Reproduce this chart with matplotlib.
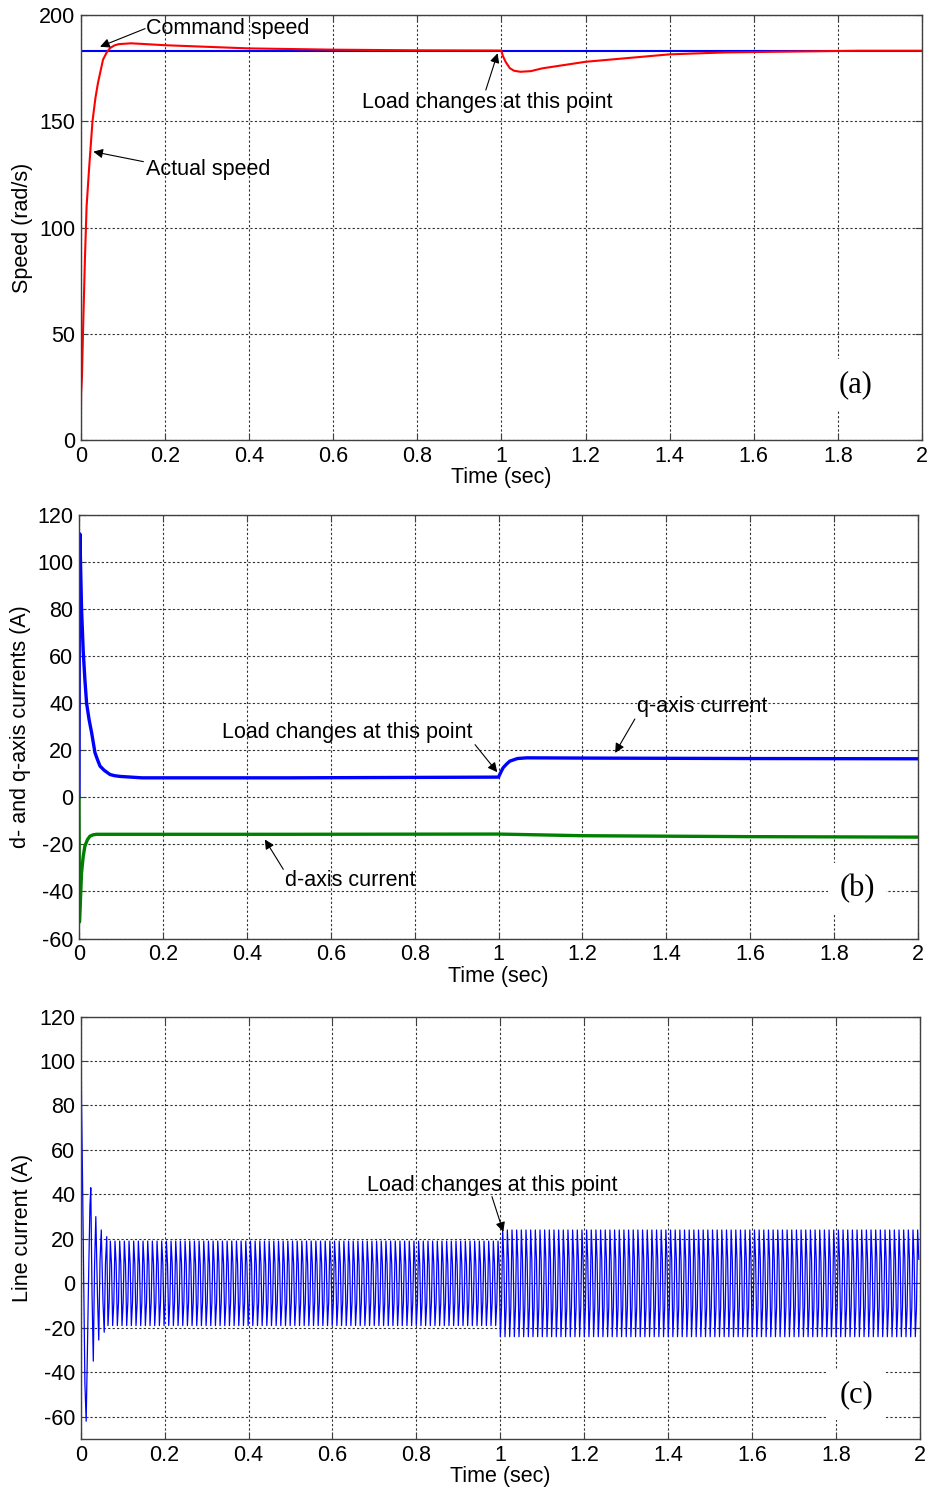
import matplotlib
matplotlib.use("Agg")
import matplotlib.pyplot as plt
import numpy as np

plt.rcParams['font.family'] = ['Liberation Sans', 'DejaVu Sans']
plt.rcParams['font.size'] = 15.5
plt.rcParams['axes.unicode_minus'] = False

# ---- (a) speed ----
cmd_t = [0.0, 2.0]
cmd_speed = [183.2, 183.2]
speed_t = [0.0, 0.001, 0.003, 0.006, 0.010, 0.014, 0.020, 0.028, 0.035, 0.041, 0.053,
           0.062, 0.070, 0.080, 0.090, 0.120, 0.200, 0.400, 0.600, 0.800, 1.000, 1.003,
           1.010, 1.020, 1.030, 1.045, 1.070, 1.097, 1.200, 1.400, 1.532, 1.643, 1.849, 2.0]
speed = [0.0, 22, 30, 55, 85, 110, 128, 150, 161, 168, 179,
         182.5, 184.5, 185.7, 186.3, 186.7, 185.8, 184.3, 183.7, 183.4, 183.3, 181,
         178, 175, 173.8, 173.3, 173.6, 174.9, 178.0, 181.5, 182.4, 182.7, 183.2, 183.2]

# ---- (b) d- and q-axis currents ----
iq_t = [0.0, 0.001, 0.002, 0.006, 0.010, 0.014, 0.018, 0.024, 0.030, 0.038, 0.044,
        0.050, 0.060, 0.074, 0.085, 0.098, 0.15, 0.5, 1.0, 1.005, 1.011, 1.020,
        1.027, 1.045, 1.067, 1.2, 1.6, 2.0]
iq = [0.0, 105, 112, 80, 62, 50, 40, 33, 27.5, 19, 16,
      13.3, 11.5, 9.7, 9.2, 8.9, 8.3, 8.3, 8.6, 10.5, 12.6, 14.3,
      15.4, 16.5, 16.8, 16.7, 16.5, 16.4]
id_t = [0.0, 0.001, 0.003, 0.006, 0.010, 0.014, 0.020, 0.026, 0.034, 0.042, 0.1,
        0.5, 1.0, 1.2, 1.6, 2.0]
i_d = [0.0, -53, -45, -32, -25, -20.7, -18, -16.5, -15.9, -15.7, -15.7,
       -15.7, -15.6, -16.3, -16.7, -16.9]

# ---- (c) line current ----
lc_start_t = [0.0, 0.001, 0.002, 0.004, 0.006, 0.008, 0.010, 0.013, 0.016, 0.019,
              0.022, 0.024, 0.027, 0.030, 0.033, 0.036, 0.040, 0.043, 0.046, 0.049,
              0.053, 0.056, 0.059, 0.062]
lc_start = [0.0, 110, 80, 52, 20, -15, -45, -62, -30, 5,
            35, 43, -5, -35, 8, 30, -6, -25.5, 10, 24,
            -8, -22, 9, 21]
lc_seg_t = [0.065, 1.0, 2.0]
lc_amp = [19, 24]
lc_cycles = [84, 90]
lc_shape = [-1.0, -0.45, 1.0, 0.45]

fig = plt.figure(figsize=(9.32, 14.89), dpi=100)
ax_a = fig.add_axes([0.0866, 0.7045, 0.9027, 0.2854])
ax_b = fig.add_axes([0.0848, 0.3697, 0.9002, 0.2844])
ax_c = fig.add_axes([0.0866, 0.0336, 0.9005, 0.2837])

ax_a.plot(cmd_t, cmd_speed, color='#0000ff', lw=1.5)
ax_a.plot(speed_t, speed, color='#ff0000', lw=1.5)

ax_b.plot(iq_t, iq, color='#0000ff', lw=2.4)
ax_b.plot(id_t, i_d, color='#008000', lw=2.4)

# line current: transient samples then repeated cycles at read amplitudes
lc_t = list(lc_start_t)
lc_v = list(lc_start)
for k in range(len(lc_amp)):
    n = lc_cycles[k] * len(lc_shape)
    tt = np.linspace(lc_seg_t[k], lc_seg_t[k + 1], n, endpoint=False)
    vv = np.tile(lc_shape, lc_cycles[k]) * lc_amp[k]
    lc_t.extend(tt)
    lc_v.extend(vv)
ax_c.plot(lc_t, lc_v, color='#0000ff', lw=0.9)

arrow = dict(arrowstyle='-|>', color='black', lw=0.8, mutation_scale=14,
             shrinkA=0, shrinkB=0)

ax_a.annotate('', xy=(0.046, 185.1), xytext=(0.153, 193.6), arrowprops=arrow)
ax_a.text(0.349, 193.9, 'Command speed', ha='center', va='center')
ax_a.annotate('', xy=(0.030, 135.7), xytext=(0.149, 131.0), arrowprops=arrow)
ax_a.text(0.302, 127.5, 'Actual speed', ha='center', va='center')
ax_a.annotate('', xy=(0.991, 182.0), xytext=(0.963, 164.7), arrowprops=arrow)
ax_a.text(0.967, 159.0, 'Load changes at this point', ha='center', va='center')

ax_b.annotate('', xy=(0.997, 10.7), xytext=(0.944, 22.4), arrowprops=arrow)
ax_b.text(0.639, 27.5, 'Load changes at this point', ha='center', va='center')
ax_b.annotate('', xy=(1.278, 18.9), xytext=(1.325, 33.3), arrowprops=arrow)
ax_b.text(1.485, 38.6, 'q-axis current', ha='center', va='center')
ax_b.annotate('', xy=(0.443, -17.9), xytext=(0.487, -30.6), arrowprops=arrow)
ax_b.text(0.646, -35.3, 'd-axis current', ha='center', va='center')

ax_c.annotate('', xy=(1.007, 23.2), xytext=(0.980, 39.0), arrowprops=arrow)
ax_c.text(0.980, 44.2, 'Load changes at this point', ha='center', va='center')

box = dict(facecolor='white', edgecolor='none', pad=8)
ax_a.text(1.842, 25.9, '(a)', ha='center', va='center', fontsize=22,
          family='Liberation Serif', bbox=box)
ax_b.text(1.855, -38.6, '(b)', ha='center', va='center', fontsize=22,
          family='Liberation Serif', bbox=box)
ax_c.text(1.848, -50.2, '(c)', ha='center', va='center', fontsize=22,
          family='Liberation Serif', bbox=box)

ax_a.set_ylim(0, 200)
ax_a.set_yticks([0, 50, 100, 150, 200])
ax_b.set_ylim(-60, 120)
ax_b.set_yticks(range(-60, 121, 20))
ax_c.set_ylim(-70, 120)
ax_c.set_yticks(range(-60, 121, 20))

ax_a.set_ylabel('Speed (rad/s)')
ax_b.set_ylabel('d- and q-axis currents (A)')
ax_c.set_ylabel('Line current (A)')

xticks = [0, 0.2, 0.4, 0.6, 0.8, 1, 1.2, 1.4, 1.6, 1.8, 2]
xlabels = ['0', '0.2', '0.4', '0.6', '0.8', '1', '1.2', '1.4', '1.6', '1.8', '2']
for ax in (ax_a, ax_b, ax_c):
    ax.set_xlim(0, 2)
    ax.set_xticks(xticks)
    ax.set_xticklabels(xlabels)
    ax.set_xlabel('Time (sec)')
    ax.xaxis.set_label_coords(0.5, -0.064)
    ax.yaxis.set_label_coords(-0.057, 0.5)
    ax.grid(True, color='#303030', linestyle=(0, (2, 2)), linewidth=0.8)
    ax.set_axisbelow(True)
    ax.tick_params(direction='in', length=5, top=True, right=True,
                   color='#404040', pad=4)
    for s in ax.spines.values():
        s.set_color('#404040')
        s.set_linewidth(1.0)

fig.savefig('out.png', dpi=100)
